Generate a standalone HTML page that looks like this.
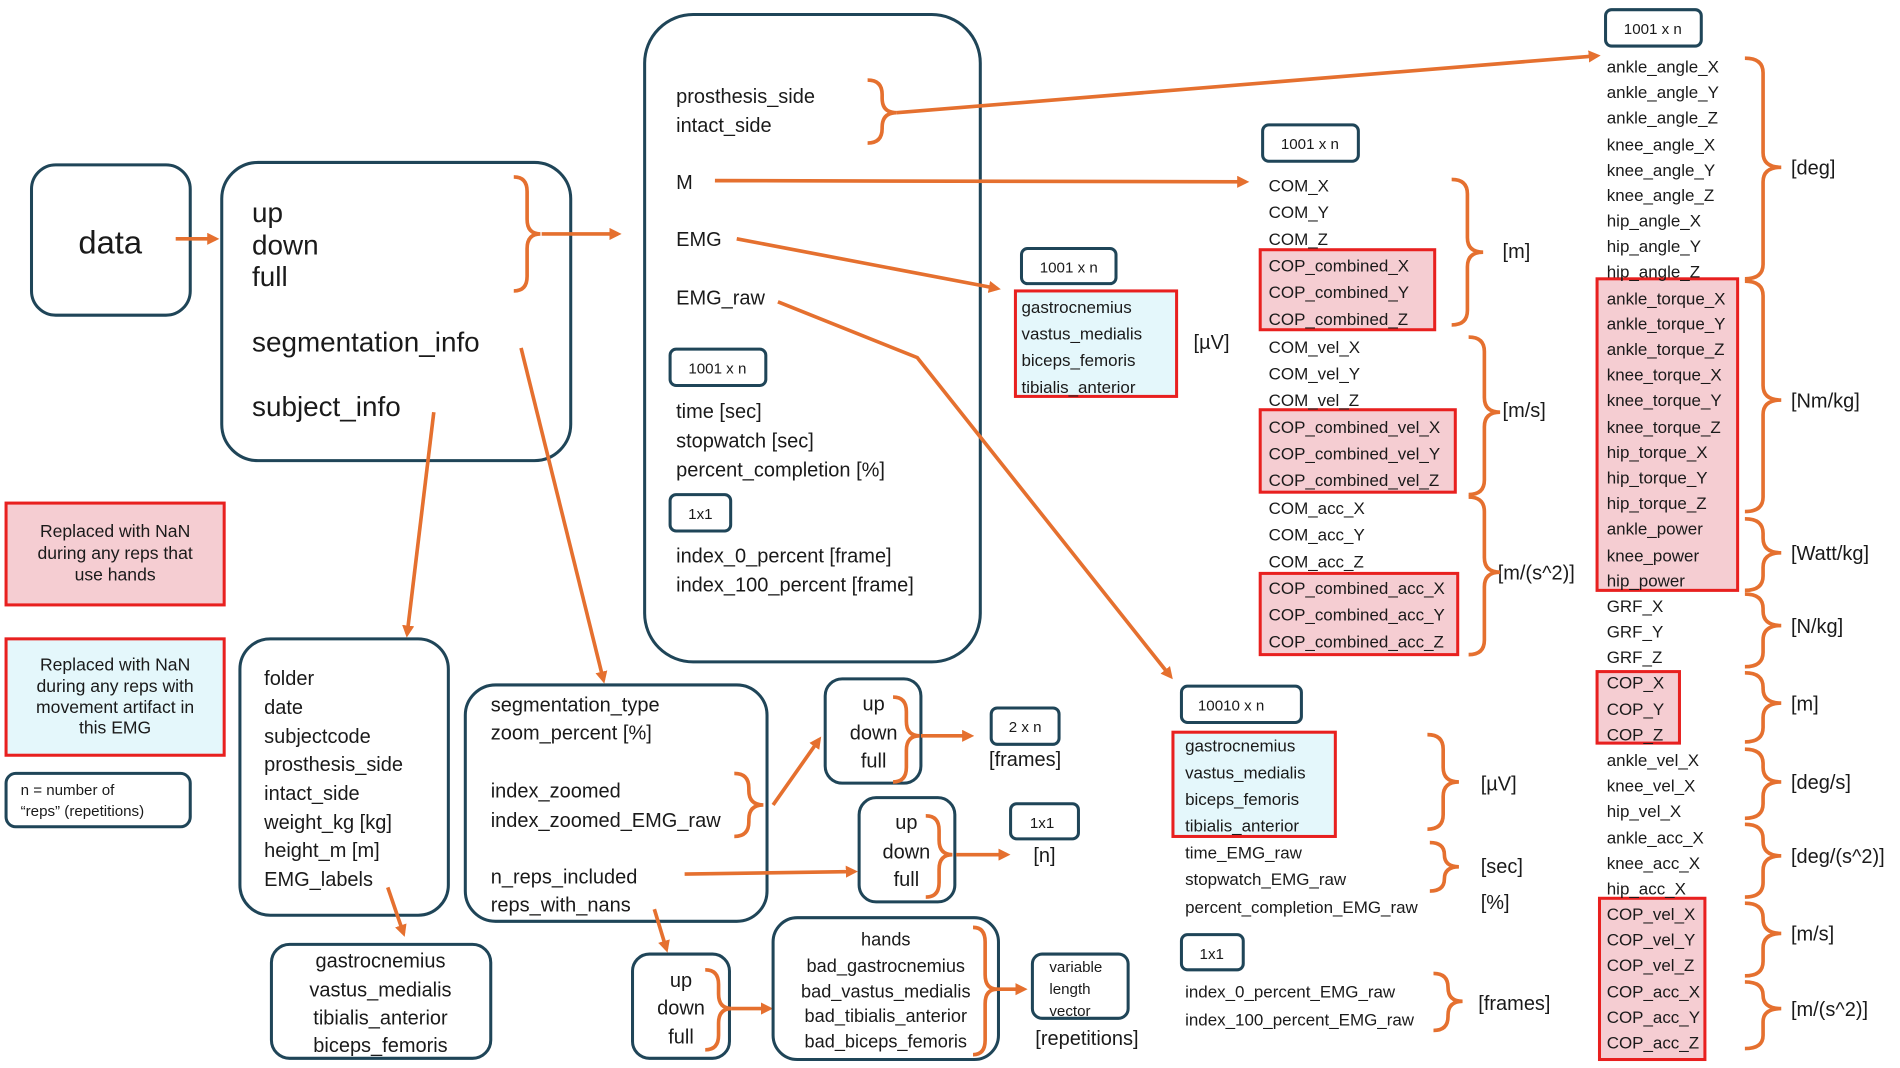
<!DOCTYPE html>
<html><head><meta charset="utf-8"><style>
html,body{margin:0;padding:0;background:#fff}
svg{display:block}
text{font-family:"Liberation Sans",sans-serif;fill:#1a1a1a}
.b{fill:none;stroke:#1f4558;stroke-width:2.5}
.o{fill:none;stroke:#E5702F;stroke-width:3}
.s{font-size:14px}
.m{font-size:16.5px}
.t{font-size:12.5px}
</style></head><body>
<svg id="s" width="1900" height="1068" viewBox="0 0 1568 881" preserveAspectRatio="none" xmlns="http://www.w3.org/2000/svg">
<defs><marker id="a" markerWidth="10" markerHeight="10" refX="7" refY="5" orient="auto" markerUnits="userSpaceOnUse"><path d="M0,0 L10,5 L0,10 z" fill="#E5702F"/></marker></defs>

<rect class="b" x="26" y="136" width="131" height="124" rx="20"/>
<text x="91" y="209" font-size="27" text-anchor="middle">data</text>
<line class="o" x1="145" y1="197" x2="178" y2="197" marker-end="url(#a)"/>

<rect class="b" x="183" y="134" width="288" height="246" rx="30"/>
<g font-size="23"><text x="208" y="183">up</text><text x="208" y="210">down</text><text x="208" y="236">full</text>
<text x="208" y="290">segmentation_info</text><text x="208" y="343">subject_info</text></g>
<line class="o" x1="447" y1="193" x2="510" y2="193" marker-end="url(#a)"/>

<rect class="b" x="532" y="12" width="277" height="534" rx="40"/>
<g class="m"><text x="558" y="85">prosthesis_side</text><text x="558" y="109">intact_side</text>
<text x="558" y="156">M</text><text x="558" y="203">EMG</text><text x="558" y="251">EMG_raw</text>
<text x="558" y="345">time [sec]</text><text x="558" y="369">stopwatch [sec]</text><text x="558" y="393">percent_completion [%]</text>
<text x="558" y="464">index_0_percent [frame]</text><text x="558" y="488">index_100_percent [frame]</text></g>
<rect class="b" x="553" y="288" width="79" height="30" rx="5"/><text class="t" x="592" y="308" text-anchor="middle">1001 x n</text>
<rect class="b" x="553" y="408" width="50" height="30" rx="5"/><text class="t" x="578" y="428" text-anchor="middle">1x1</text>

<line class="o" x1="740" y1="93" x2="1318" y2="46" marker-end="url(#a)"/>
<line class="o" x1="590" y1="149" x2="1028" y2="150" marker-end="url(#a)"/>
<line class="o" x1="608" y1="197" x2="823" y2="238" marker-end="url(#a)"/>
<polyline class="o" points="642,249 757,295 966,558" marker-end="url(#a)"/>

<rect class="b" x="843" y="205" width="78" height="29" rx="5"/><text class="t" x="882" y="225" text-anchor="middle">1001 x n</text>
<rect x="838" y="240" width="133" height="87" fill="#E4F7FB" stroke="#E8201F" stroke-width="2.5"/>
<g class="s" fill="#333"><text x="843" y="258">gastrocnemius</text><text x="843" y="280">vastus_medialis</text><text x="843" y="302">biceps_femoris</text><text x="843" y="324">tibialis_anterior</text></g>
<text class="m" x="985" y="288">[µV]</text>

<rect class="b" x="1042" y="103" width="79" height="30" rx="5"/><text class="t" x="1081" y="123" text-anchor="middle">1001 x n</text>
<rect x="1040" y="206" width="144" height="66" fill="#F5CDD2" stroke="#E8201F" stroke-width="2.5"/>
<rect x="1040" y="338" width="161" height="68" fill="#F5CDD2" stroke="#E8201F" stroke-width="2.5"/>
<rect x="1040" y="473" width="163" height="67" fill="#F5CDD2" stroke="#E8201F" stroke-width="2.5"/>
<g class="s"><text x="1047" y="158">COM_X</text><text x="1047" y="180">COM_Y</text><text x="1047" y="202">COM_Z</text>
<text x="1047" y="224">COP_combined_X</text><text x="1047" y="246">COP_combined_Y</text><text x="1047" y="268">COP_combined_Z</text>
<text x="1047" y="291">COM_vel_X</text><text x="1047" y="313">COM_vel_Y</text><text x="1047" y="335">COM_vel_Z</text>
<text x="1047" y="357">COP_combined_vel_X</text><text x="1047" y="379">COP_combined_vel_Y</text><text x="1047" y="401">COP_combined_vel_Z</text>
<text x="1047" y="424">COM_acc_X</text><text x="1047" y="446">COM_acc_Y</text><text x="1047" y="468">COM_acc_Z</text>
<text x="1047" y="490">COP_combined_acc_X</text><text x="1047" y="512">COP_combined_acc_Y</text><text x="1047" y="534">COP_combined_acc_Z</text></g>
<g class="m"><text x="1240" y="213">[m]</text><text x="1240" y="344">[m/s]</text><text x="1236" y="478">[m/(s^2)]</text></g>

<rect class="b" x="1325" y="8" width="79" height="30" rx="5"/><text class="t" x="1364" y="28" text-anchor="middle">1001 x n</text>
<rect x="1318" y="230" width="116" height="257" fill="#F5CDD2" stroke="#E8201F" stroke-width="2.5"/>
<rect x="1318" y="554" width="68" height="59" fill="#F5CDD2" stroke="#E8201F" stroke-width="2.5"/>
<rect x="1320" y="741" width="87" height="133" fill="#F5CDD2" stroke="#E8201F" stroke-width="2.5"/>
<g class="s">
<text x="1326" y="60">ankle_angle_X</text><text x="1326" y="81">ankle_angle_Y</text><text x="1326" y="102">ankle_angle_Z</text>
<text x="1326" y="124">knee_angle_X</text><text x="1326" y="145">knee_angle_Y</text><text x="1326" y="166">knee_angle_Z</text>
<text x="1326" y="187">hip_angle_X</text><text x="1326" y="208">hip_angle_Y</text><text x="1326" y="229">hip_angle_Z</text>
<text x="1326" y="251">ankle_torque_X</text><text x="1326" y="272">ankle_torque_Y</text><text x="1326" y="293">ankle_torque_Z</text>
<text x="1326" y="314">knee_torque_X</text><text x="1326" y="335">knee_torque_Y</text><text x="1326" y="357">knee_torque_Z</text>
<text x="1326" y="378">hip_torque_X</text><text x="1326" y="399">hip_torque_Y</text><text x="1326" y="420">hip_torque_Z</text>
<text x="1326" y="441">ankle_power</text><text x="1326" y="463">knee_power</text><text x="1326" y="484">hip_power</text>
<text x="1326" y="505">GRF_X</text><text x="1326" y="526">GRF_Y</text><text x="1326" y="547">GRF_Z</text>
<text x="1326" y="568">COP_X</text><text x="1326" y="590">COP_Y</text><text x="1326" y="611">COP_Z</text>
<text x="1326" y="632">ankle_vel_X</text><text x="1326" y="653">knee_vel_X</text><text x="1326" y="674">hip_vel_X</text>
<text x="1326" y="696">ankle_acc_X</text><text x="1326" y="717">knee_acc_X</text><text x="1326" y="738">hip_acc_X</text>
<text x="1326" y="759">COP_vel_X</text><text x="1326" y="780">COP_vel_Y</text><text x="1326" y="801">COP_vel_Z</text>
<text x="1326" y="823">COP_acc_X</text><text x="1326" y="844">COP_acc_Y</text><text x="1326" y="865">COP_acc_Z</text></g>
<g class="m"><text x="1478" y="144">[deg]</text><text x="1478" y="336">[Nm/kg]</text><text x="1478" y="462">[Watt/kg]</text>
<text x="1478" y="522">[N/kg]</text><text x="1478" y="586">[m]</text><text x="1478" y="651">[deg/s]</text>
<text x="1478" y="712">[deg/(s^2)]</text><text x="1478" y="776">[m/s]</text><text x="1478" y="838">[m/(s^2)]</text></g>

<rect class="b" x="975" y="566" width="99" height="30" rx="5"/><text class="t" x="1016" y="586" text-anchor="middle">10010 x n</text>
<rect x="968" y="604" width="134" height="86" fill="#E4F7FB" stroke="#E8201F" stroke-width="2.5"/>
<g class="s"><text x="978" y="620">gastrocnemius</text><text x="978" y="642">vastus_medialis</text><text x="978" y="664">biceps_femoris</text><text x="978" y="686">tibialis_anterior</text>
<text x="978" y="708">time_EMG_raw</text><text x="978" y="730">stopwatch_EMG_raw</text><text x="978" y="753">percent_completion_EMG_raw</text>
<text x="978" y="823">index_0_percent_EMG_raw</text><text x="978" y="846">index_100_percent_EMG_raw</text></g>
<rect class="b" x="975" y="771" width="51" height="29" rx="5"/><text class="t" x="1000" y="791" text-anchor="middle">1x1</text>
<g class="m"><text x="1222" y="652">[µV]</text><text x="1222" y="720">[sec]</text><text x="1222" y="750">[%]</text><text x="1220" y="833">[frames]</text></g>

<rect x="5" y="415" width="180" height="84" fill="#F5CDD2" stroke="#E8201F" stroke-width="2.5"/>
<g font-size="14.5" text-anchor="middle"><text x="95" y="443">Replaced with NaN</text><text x="95" y="461">during any reps that</text><text x="95" y="479">use hands</text></g>
<rect x="5" y="527" width="180" height="96" fill="#E4F7FB" stroke="#E8201F" stroke-width="2.5"/>
<g font-size="14.5" text-anchor="middle"><text x="95" y="553">Replaced with NaN</text><text x="95" y="571">during any reps with</text><text x="95" y="588">movement artifact in</text><text x="95" y="605">this EMG</text></g>
<rect class="b" x="5" y="638" width="152" height="44" rx="8"/>
<g font-size="12.5"><text x="17" y="656">n = number of</text><text x="17" y="673">“reps” (repetitions)</text></g>

<line class="o" x1="358" y1="340" x2="336" y2="523" marker-end="url(#a)"/>
<rect class="b" x="198" y="527" width="172" height="228" rx="25"/>
<g class="m"><text x="218" y="565">folder</text><text x="218" y="589">date</text><text x="218" y="613">subjectcode</text><text x="218" y="636">prosthesis_side</text><text x="218" y="660">intact_side</text><text x="218" y="684">weight_kg [kg]</text><text x="218" y="707">height_m [m]</text><text x="218" y="731">EMG_labels</text></g>
<line class="o" x1="320" y1="732" x2="333" y2="770" marker-end="url(#a)"/>
<rect class="b" x="224" y="779" width="181" height="94" rx="15"/>
<g class="m" text-anchor="middle"><text x="314" y="798">gastrocnemius</text><text x="314" y="822">vastus_medialis</text><text x="314" y="845">tibialis_anterior</text><text x="314" y="868">biceps_femoris</text></g>

<line class="o" x1="430" y1="287" x2="498" y2="561" marker-end="url(#a)"/>
<rect class="b" x="384" y="565" width="249" height="195" rx="25"/>
<g class="m"><text x="405" y="587">segmentation_type</text><text x="405" y="610">zoom_percent [%]</text><text x="405" y="658">index_zoomed</text><text x="405" y="682">index_zoomed_EMG_raw</text><text x="405" y="729">n_reps_included</text><text x="405" y="752">reps_with_nans</text></g>
<line class="o" x1="638" y1="664" x2="676" y2="610" marker-end="url(#a)"/>
<rect class="b" x="681" y="560" width="79" height="86" rx="14"/>
<g class="m" text-anchor="middle"><text x="721" y="586">up</text><text x="721" y="610">down</text><text x="721" y="633">full</text></g>
<line class="o" x1="760" y1="607" x2="801" y2="607" marker-end="url(#a)"/>
<rect class="b" x="818" y="584" width="56" height="30" rx="5"/><text class="t" x="846" y="604" text-anchor="middle">2 x n</text>
<text class="m" x="846" y="632" text-anchor="middle">[frames]</text>

<line class="o" x1="565" y1="721" x2="705" y2="719" marker-end="url(#a)"/>
<rect class="b" x="709" y="658" width="79" height="86" rx="14"/>
<g class="m" text-anchor="middle"><text x="748" y="684">up</text><text x="748" y="708">down</text><text x="748" y="731">full</text></g>
<line class="o" x1="789" y1="705" x2="831" y2="705" marker-end="url(#a)"/>
<rect class="b" x="834" y="663" width="56" height="29" rx="5"/><text class="t" x="860" y="683" text-anchor="middle">1x1</text>
<text class="m" x="862" y="711" text-anchor="middle">[n]</text>

<line class="o" x1="540" y1="750" x2="550" y2="783" marker-end="url(#a)"/>
<rect class="b" x="522" y="787" width="80" height="86" rx="14"/>
<g class="m" text-anchor="middle"><text x="562" y="814">up</text><text x="562" y="837">down</text><text x="562" y="861">full</text></g>
<line class="o" x1="604" y1="832" x2="635" y2="832" marker-end="url(#a)"/>
<rect class="b" x="638" y="757" width="186" height="117" rx="20"/>
<g font-size="15" text-anchor="middle"><text x="731" y="780">hands</text><text x="731" y="802">bad_gastrocnemius</text><text x="731" y="823">bad_vastus_medialis</text><text x="731" y="843">bad_tibialis_anterior</text><text x="731" y="864">bad_biceps_femoris</text></g>
<line class="o" x1="822" y1="816" x2="845" y2="816" marker-end="url(#a)"/>
<rect class="b" x="852" y="787" width="79" height="53" rx="8"/>
<g font-size="12.5"><text x="866" y="802">variable</text><text x="866" y="820">length</text><text x="866" y="838">vector</text></g>
<text class="m" x="897" y="862" text-anchor="middle">[repetitions]</text>

<g id="br"></g>
</svg>
<script>
var B=[[424,146,240,193,11],[716,66,118,93,12],[1198,148,268,208,13],[1212,278,408,340,13],[1212,410,540,472,13],
[1440,48,230,138,15],[1440,232,422,330,15],[1440,428,487,456,15],[1440,490,550,516,15],[1440,555,612,580,15],
[1440,618,675,645,15],[1440,680,740,706,15],[1440,745,805,770,15],[1440,810,865,832,15],
[1178,606,684,645,13],[1180,695,735,715,12],[1183,803,850,826,12],
[606,638,690,664,12],[737,575,645,607,11],[764,673,740,705,11],[582,800,866,832,11],[803,765,870,816,10]];
var g=document.getElementById('br'),s='';
B.forEach(function(b){var x=b[0],y1=b[1],y2=b[2],m=b[3],w=b[4],r=Math.min(12,(m-y1)/2,(y2-m)/2);
s+='<path class="o" d="M'+x+','+y1+' Q'+(x+w)+','+y1+' '+(x+w)+','+(y1+r)+' L'+(x+w)+','+(m-r)+' Q'+(x+w)+','+m+' '+(x+2*w)+','+m+' Q'+(x+w)+','+m+' '+(x+w)+','+(m+r)+' L'+(x+w)+','+(y2-r)+' Q'+(x+w)+','+y2+' '+x+','+y2+'"/>';});
g.innerHTML=s;
</script>
</body></html>
